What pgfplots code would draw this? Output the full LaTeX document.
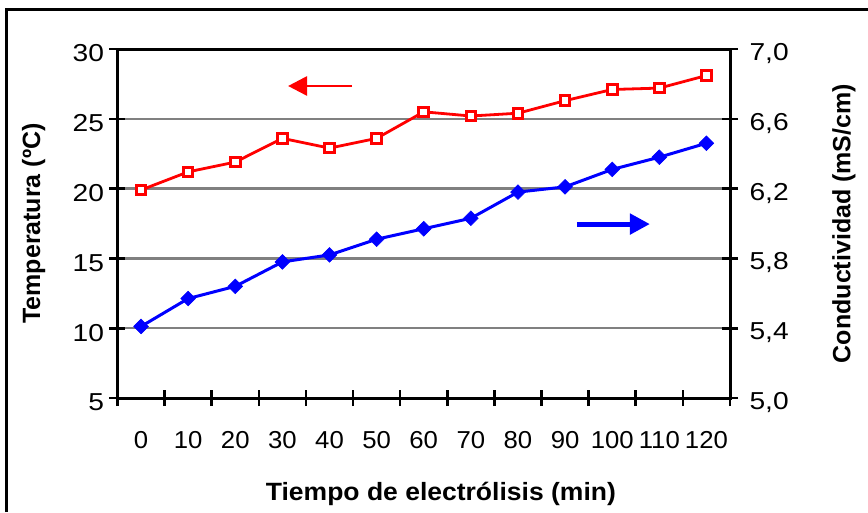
\documentclass[border=0pt]{standalone}
\usepackage{pgfplots}
\pgfplotsset{compat=1.18}
\usepackage{pgfplotstable}
\usepackage{graphicx}
\usepackage{fontspec}
\setmainfont{Liberation Sans}
\usetikzlibrary{arrows.meta}

% widened digits for the tick labels
\newcommand{\sx}[1]{\scalebox{1.15}[1]{#1}}
\newcommand{\bx}[1]{\scalebox{1.05}[1]{#1}}

% Temperature (ºC) and conductivity (mS/cm) against electrolysis time (min)
\pgfplotstableread{
t   T     K
0   19.9  5.41
10  21.2  5.57
20  21.9  5.64
30  23.6  5.78
40  22.9  5.82
50  23.6  5.91
60  25.5  5.97
70  25.2  6.03
80  25.4  6.18
90  26.3  6.21
100 27.1  6.31
110 27.2  6.38
120 28.1  6.46
}\datatable

\pgfplotsset{
  common/.style={
    at={(117.5pt,-398pt)}, anchor=south west,
    scale only axis, width=612.5pt, height=349pt,
    xmin=0, xmax=13,
    axis line style={line width=3pt},
    tick style={black, line width=2.6pt},
    major tick length=16pt, tick align=center,
    tick label style={font=\fontsize{24.5}{24.5}\selectfont},
    label style={font=\fontsize{25}{25}\selectfont\bfseries},
  },
}

\begin{document}
\begin{tikzpicture}
\useasboundingbox (0pt,0pt) rectangle (868pt,-512pt);
\draw[line width=2.8pt] (6.5pt,-512pt) -- (6.5pt,-9.5pt) -- (868pt,-9.5pt);

\begin{axis}[common,
  ymin=5, ymax=30, ytick={5,10,...,30}, ytick pos=left,
  yticklabels={\sx{5},\sx{10},\sx{15},\sx{20},\sx{25},\sx{30}},
  ymajorgrids, grid style={gray, line width=2.4pt},
  xtick={0,...,13}, xticklabels={}, xtick pos=bottom,
  extra x ticks={0.5,1.5,...,12.5},
  extra x tick labels={\bx{0},\bx{10},\bx{20},\bx{30},\bx{40},\bx{50},\bx{60},\bx{70},\bx{80},\bx{90},\bx{100},\bx{110},\bx{120}},
  extra x tick style={major tick length=0pt, grid=none,
    xticklabel style={anchor=base, yshift=-50pt}},
  yticklabel style={anchor=east, xshift=-2pt, yshift=-4.5pt},
  xlabel={\scalebox{1.06}[1]{Tiempo de electrólisis (min)}},
  xlabel style={at={(axis description cs:0.528,-0.295)}, anchor=base},
  ylabel={Temperatura (ºC)},
  ylabel style={at={(axis description cs:-0.137,0.5)}, anchor=center},
]
\addplot[red, line width=2.8pt, mark=square*,
  mark options={fill=white, draw=red, line width=3pt}, mark size=4.8pt]
  table[x expr=\thisrow{t}/10+0.5, y=T] {\datatable};
\draw[red, line width=2.8pt, -{Triangle[length=19pt,width=19pt]}]
  (axis cs:4.98,27.35) -- (axis cs:3.62,27.35);
\draw[blue, line width=5pt, -{Triangle[length=20pt,width=20pt]}]
  (axis cs:9.75,17.46) -- (axis cs:11.30,17.46);
\end{axis}

\begin{axis}[common,
  axis x line=none, axis y line*=right,
  ymin=5, ymax=7, ytick={5.0,5.4,5.8,6.2,6.6,7.0},
  yticklabels={{\sx{5,0}},{\sx{5,4}},{\sx{5,8}},{\sx{6,2}},{\sx{6,6}},{\sx{7,0}}},
  yticklabel style={anchor=west, xshift=8pt, yshift=-4.5pt},
  ylabel={Conductividad (mS/cm)},
  ylabel style={at={(axis description cs:1.186,0.5)}, anchor=center},
]
\addplot[blue, line width=3pt, mark=square*,
  mark options={rotate=45, fill=blue, draw=blue, line width=0.6pt}, mark size=5.2pt]
  table[x expr=\thisrow{t}/10+0.5, y=K] {\datatable};
\end{axis}
\end{tikzpicture}
\end{document}
